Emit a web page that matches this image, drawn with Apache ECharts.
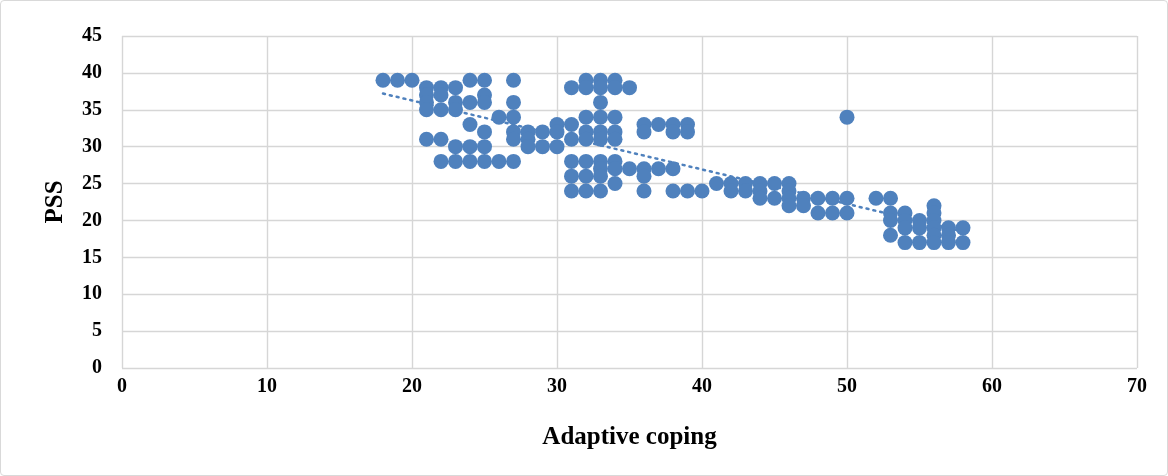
<!DOCTYPE html>
<html>
<head>
<meta charset="utf-8">
<script src="https://cdn.jsdelivr.net/npm/echarts@6/dist/echarts.min.js"></script>
<style>
body{margin:0;background:#fff;}
#main{width:1168px;height:476px;box-sizing:border-box;border:1px solid #d9d9d9;border-radius:4px;}
</style>
</head>
<body>
<div id="main"></div>
<script>
// Adaptive coping (x) vs PSS (y)
var copingX=[18,19,20,
	21,21,21,21,21,
	22,22,22,22,22,
	23,23,23,23,23,
	24,24,24,24,24,
	25,25,25,25,25,25,
	26,26,
	27,27,27,27,27,27,
	28,28,28,
	29,29,
	30,30,30,
	31,31,31,31,31,31,
	32,32,32,32,32,32,32,32,
	33,33,33,33,33,33,33,33,33,33,
	34,34,34,34,34,34,34,34,
	35,35,
	36,36,36,36,36,
	37,37,
	38,38,38,38,
	39,39,39,
	40,41,42,42,43,43,
	44,44,44,
	45,45,
	46,46,46,46,
	47,47,48,48,49,49,
	50,50,50,
	52,
	53,53,53,53,
	54,54,54,54,
	55,55,55,
	56,56,56,56,56,56,
	57,57,57,
	58,58];
var pssY=[39,39,39,
	38,37,36,35,31,
	38,37,35,31,28,
	38,36,35,30,28,
	39,36,33,30,28,
	39,37,36,32,30,28,
	34,28,
	39,36,34,32,31,28,
	32,31,30,
	32,30,
	33,32,30,
	38,33,31,28,26,24,
	39,38,34,32,31,28,26,24,
	39,38,36,34,32,31,28,27,26,24,
	39,38,34,32,31,28,27,25,
	38,27,
	33,32,27,26,24,
	33,27,
	33,32,27,24,
	33,32,24,
	24,25,25,24,25,24,
	25,24,23,
	25,23,
	25,24,23,22,
	23,22,23,21,23,21,
	34,23,21,
	23,
	23,21,20,18,
	21,20,19,17,
	20,19,17,
	22,21,20,19,18,17,
	19,18,17,
	19,17];
var xTicks=[0,10,20,30,40,50,60,70];
var yTicks=[0,5,10,15,20,25,30,35,40,45];

var points=copingX.map(function(x,i){return [x,pssY[i]];});

// linear trendline (least squares) from the points
var n=points.length,sx=0,sy=0,sxx=0,sxy=0;
points.forEach(function(p){sx+=p[0];sy+=p[1];sxx+=p[0]*p[0];sxy+=p[0]*p[1];});
var slope=(n*sxy-sx*sy)/(n*sxx-sx*sx);
var icpt=(sy-slope*sx)/n;
var xMin=Math.min.apply(null,copingX),xMax=Math.max.apply(null,copingX);
var trend=[[xMin,icpt+slope*xMin],[xMax,icpt+slope*xMax]];

var blue='#4f81bd';
var labelFont={color:'#000',fontFamily:'Liberation Serif',fontWeight:'bold',fontSize:20};
var nameFont={color:'#000',fontFamily:'Liberation Serif',fontWeight:'bold',fontSize:25};

var chart=echarts.init(document.getElementById('main'));
var option={
	animation:false,
	grid:{
		left:121,
		right:30,
		top:35,
		bottom:107
	},
	xAxis:{
		type:'value',
		min:xTicks[0],
		max:xTicks[xTicks.length-1],
		interval:10,
		name:'Adaptive coping',
		nameLocation:'middle',
		nameGap:57,
		nameTextStyle:nameFont,
		axisLine:{show:false},
		axisTick:{show:false},
		axisLabel:Object.assign({margin:9},labelFont),
		splitLine:{lineStyle:{color:'#d6d6d6',width:1.4}}
	},
	yAxis:{
		type:'value',
		min:yTicks[0],
		max:yTicks[yTicks.length-1],
		interval:5,
		name:'PSS',
		nameLocation:'middle',
		nameGap:54,
		nameRotate:90,
		nameTextStyle:nameFont,
		axisLine:{show:false},
		axisTick:{show:false},
		axisLabel:Object.assign({margin:20},labelFont),
		splitLine:{lineStyle:{color:'#d6d6d6',width:1.4}}
	},
	series:[
		{
			type:'line',
			data:trend,
			symbol:'none',
			lineStyle:{color:blue,width:2.5,type:[2,5],cap:'round'},
			z:1
		},
		{
			type:'scatter',
			data:points,
			symbolSize:15,
			itemStyle:{color:blue,opacity:1},
			z:2
		}
	]
};
chart.setOption(option);
</script>
</body>
</html>
